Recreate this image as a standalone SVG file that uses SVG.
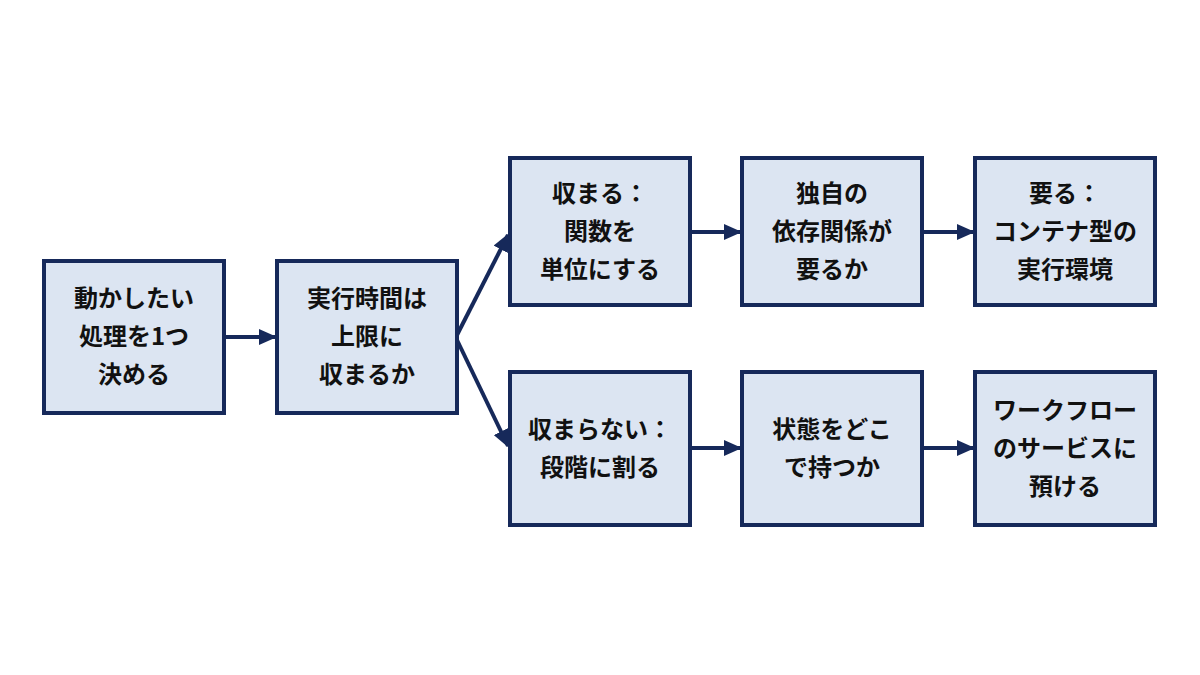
<svg xmlns="http://www.w3.org/2000/svg" width="1200" height="675" viewBox="0 0 1200 675">
<style>
.n rect{fill:#dce5f2;stroke:#16295a;stroke-width:4}
.n text{font-family:"Noto Sans CJK JP","Noto Sans",sans-serif;font-weight:bold;font-size:24px;fill:#111;text-anchor:middle}
.c line{stroke:#16295a;stroke-width:4;marker-end:url(#a)}
</style>
<defs><marker id="a" markerUnits="userSpaceOnUse" markerWidth="18" markerHeight="16" refX="16" refY="8" orient="auto"><path d="M0,0L18,8L0,16z" fill="#16295a"/></marker></defs>
<rect width="1200" height="675" fill="#fff"/>
<g class="c">
<line x1="224" y1="337" x2="275" y2="337"/>
<line x1="457" y1="335" x2="508" y2="235"/>
<line x1="457" y1="340" x2="508" y2="446"/>
<line x1="690" y1="232" x2="740" y2="232"/>
<line x1="922" y1="232" x2="973" y2="232"/>
<line x1="690" y1="448" x2="740" y2="448"/>
<line x1="922" y1="448" x2="973" y2="448"/>
</g>
<g id="n1" class="n"><rect x="44" y="261" width="180" height="152"/><text x="134" y="307">動かしたい</text><text x="134" y="345">処理を1つ</text><text x="134" y="383">決める</text></g>
<g id="n2" class="n"><rect x="277" y="261" width="180" height="152"/><text x="367" y="307">実行時間は</text><text x="367" y="345">上限に</text><text x="367" y="383">収まるか</text></g>
<g id="n3" class="n"><rect x="510" y="158" width="180" height="147"/><text x="600" y="202">収まる：</text><text x="600" y="240">関数を</text><text x="600" y="278">単位にする</text></g>
<g id="n4" class="n"><rect x="742" y="158" width="180" height="147"/><text x="832" y="202">独自の</text><text x="832" y="240">依存関係が</text><text x="832" y="278">要るか</text></g>
<g id="n5" class="n"><rect x="975" y="158" width="180" height="147"/><text x="1065" y="202">要る：</text><text x="1065" y="240">コンテナ型の</text><text x="1065" y="278">実行環境</text></g>
<g id="n6" class="n"><rect x="510" y="372" width="180" height="153"/><text x="600" y="438">収まらない：</text><text x="600" y="476">段階に割る</text></g>
<g id="n7" class="n"><rect x="742" y="372" width="180" height="153"/><text x="832" y="438">状態をどこ</text><text x="832" y="476">で持つか</text></g>
<g id="n8" class="n"><rect x="975" y="372" width="180" height="153"/><text x="1065" y="419">ワークフロー</text><text x="1065" y="457">のサービスに</text><text x="1065" y="495">預ける</text></g>
</svg>
